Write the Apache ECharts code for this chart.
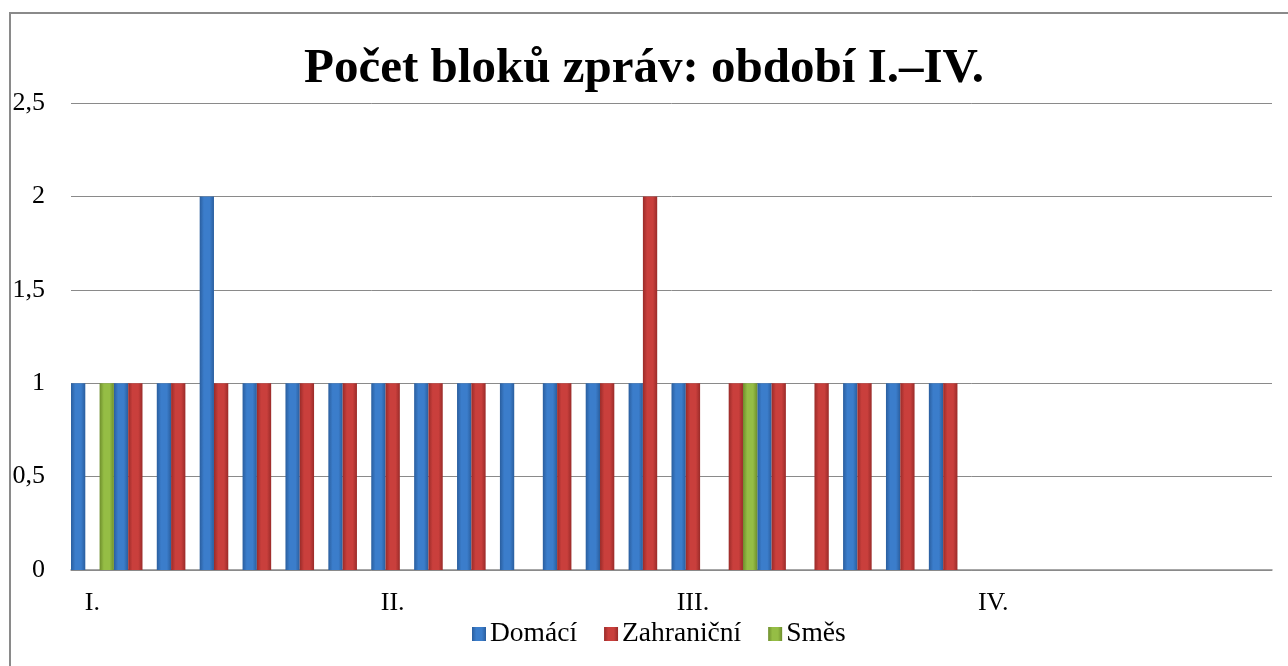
<!DOCTYPE html>
<html><head><meta charset="utf-8">
<script src="https://cdn.jsdelivr.net/npm/echarts@6/dist/echarts.min.js"></script>
<style>html,body{margin:0;padding:0;background:#fff}#c{width:1288px;height:666px}</style>
</head><body><div id="c"></div>
<script>
const categories = ["I.","","","","","","","II.","","","","","","","III.","","","","","","","IV.","","","","","",""];
const domaci     = [1,1,1,2,1,1,1,1,1,1,1,1,1,1,1,0,1,0,1,1,1,null,null,null,null,null,null,null];
const zahranicni = [0,1,1,1,1,1,1,1,1,1,0,1,1,2,1,1,1,1,1,1,1,null,null,null,null,null,null,null];
const smes       = [1,0,0,0,0,0,0,0,0,0,0,0,0,0,0,1,0,0,0,0,0,null,null,null,null,null,null,null];
const yTicks = ["0","0,5","1","1,5","2","2,5"];

function grad(edge, mid){
  return new echarts.graphic.LinearGradient(0,0,1,0,[
    {offset:0,color:edge},{offset:0.3,color:mid},{offset:0.7,color:mid},{offset:1,color:edge}]);
}
const serif = "'Liberation Serif','DejaVu Serif',serif";
const chart = echarts.init(document.getElementById('c'));
chart.setOption({
  animation:false,
  backgroundColor:'#fff',
  graphic:[{type:'rect',shape:{x:10,y:13,width:1300,height:700},style:{fill:'none',stroke:'#8a8a8a',lineWidth:2}}],
  title:{text:'Počet bloků zpráv: období I.–IV.',left:'center',top:40,
    textStyle:{fontFamily:serif,fontSize:49,fontWeight:'bold',color:'#000'}},
  legend:{top:615,left:467,itemWidth:14,itemHeight:14,itemGap:27,icon:'rect',
    textStyle:{fontFamily:serif,fontSize:27.5,color:'#000',padding:[0,0,0,-1]}},
  grid:{left:71,right:16,top:103,bottom:96},
  xAxis:{type:'category',data:categories,
    axisLine:{lineStyle:{color:'#8a8a8a',width:1.5}},axisTick:{show:false},
    axisLabel:{interval:0,margin:20,fontFamily:serif,fontSize:26,color:'#000'}},
  yAxis:{type:'value',min:0,max:2.5,interval:0.5,
    axisLine:{show:false},axisTick:{show:false},
    splitLine:{lineStyle:{color:'#8a8a8a',width:1}},
    axisLabel:{margin:26,fontFamily:serif,fontSize:26,color:'#000',
      formatter:v=>yTicks[Math.round(v/0.5)]}},
  series:[
    {name:'Domácí',type:'bar',data:domaci,barGap:'0%',barCategoryGap:'0%',
      itemStyle:{color:grad('#2a5e9e','#3b7dcb')}},
    {name:'Zahraniční',type:'bar',data:zahranicni,barGap:'0%',barCategoryGap:'0%',
      itemStyle:{color:grad('#9a2b29','#c93f3c')}},
    {name:'Směs',type:'bar',data:smes,barGap:'0%',barCategoryGap:'0%',
      itemStyle:{color:grad('#6e8e2c','#95bd45')}}
  ]
});
</script></body></html>
